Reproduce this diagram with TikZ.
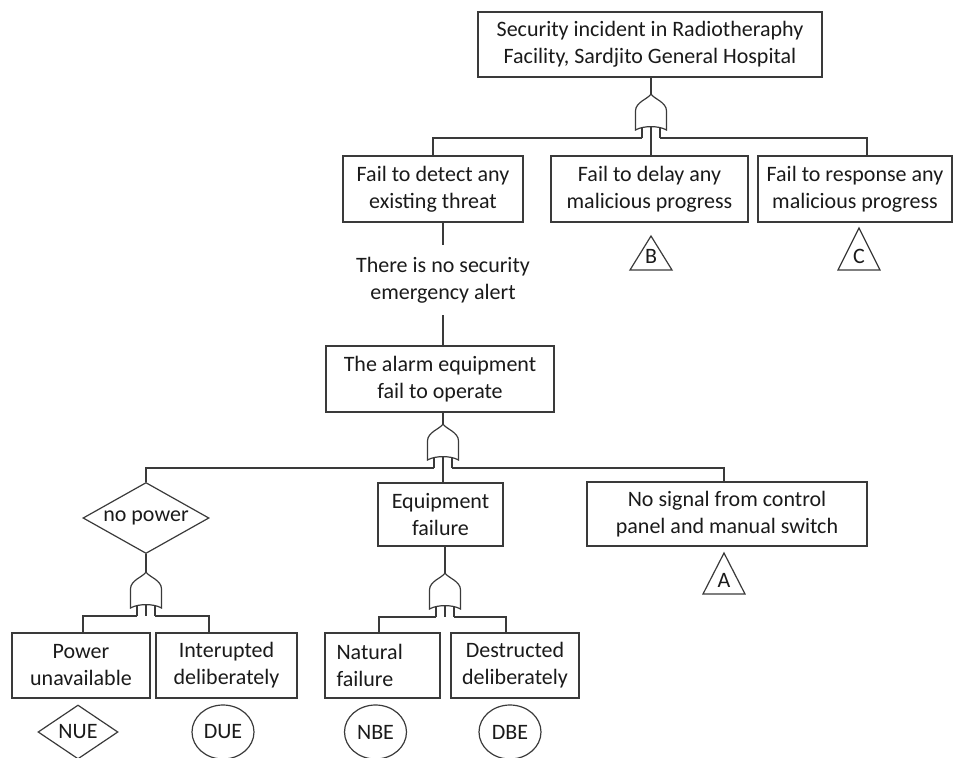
\documentclass[tikz,border=0pt]{standalone}
\usepackage{fontspec}
\setmainfont{Carlito}
\usetikzlibrary{shapes.geometric,calc}
\definecolor{ln}{HTML}{3A3A3A}
\definecolor{tx}{HTML}{1A1A1A}
\tikzset{
  gl/.style={draw=ln, line width=1.2pt},
  txt/.style={text=tx, font=\fontsize{22}{27}\selectfont, align=center, inner sep=0pt},
  box/.style={txt, draw=ln, line width=1.2pt, rectangle},
  diam/.style={txt, draw=ln, line width=1.2pt, diamond},
  ell/.style={txt, draw=ln, line width=1.2pt, ellipse, minimum width=62pt, minimum height=54pt},
  pics/orgate/.style={code={
    \draw[gl] (0,0) .. controls (-3,5) and (-15.5,8) .. (-15.5,17) -- (-15.5,36)
      .. controls (-8,31.5) and (8,31.5) .. (15.5,36) -- (15.5,17)
      .. controls (15.5,8) and (3,5) .. (0,0);
    \draw[gl] (-9,33.5) -- (-9,44) (9,33.5) -- (9,44);
    \coordinate (-top) at (0,0);
    \coordinate (-c) at (0,32.6);
    \coordinate (-l) at (-9,44);
    \coordinate (-r) at (9,44);
    \coordinate (-b) at (0,44);
  }},
  pics/transfer/.style n args={2}{code={
    \draw[gl] (0,0) -- (-21,#2) -- (21,#2) -- cycle;
    \node[txt] (-lab) at (0,#2-13.5) {#1};
  }}
}
\begin{document}
\begin{tikzpicture}[x=1pt,y=-1pt]
\useasboundingbox (0,0) rectangle (954,758);

% top event
\node[box, minimum width=344pt, minimum height=65pt] (top) at (650,44.5) {Security incident in Radiotheraphy\\Facility, Sardjito General Hospital};
\pic (g1) at (651,94) {orgate};

% second level
\node[box, minimum width=180pt, minimum height=66pt] (d1) at (433,189) {Fail to detect any\\existing threat};
\node[box, minimum width=197pt, minimum height=66pt] (d2) at (649.5,189) {Fail to delay any\\malicious progress};
\node[box, minimum width=194pt, minimum height=66pt] (d3) at (855,189) {Fail to response any\\malicious progress};
\pic (tB) at (651,236) {transfer={B}{34}};
\pic (tC) at (859,228) {transfer={C}{42}};

% chain
\node[txt, inner ysep=12pt] (alert) at (443,280) {There is no security\\emergency alert};
\node[box, minimum width=228pt, minimum height=66pt] (alarm) at (440,379) {The alarm equipment\\fail to operate};
\pic (g2) at (443,424) {orgate};

% third level
\node[diam, minimum width=126pt, minimum height=71pt, shape aspect=1.77] (np) at (146,518) {no power};
\node[box, minimum width=125pt, minimum height=63pt] (eq) at (440.5,514.5) {Equipment\\failure};
\node[box, minimum width=280pt, minimum height=64pt] (sig) at (727,514) {No signal from control\\panel and manual switch};
\pic (tA) at (724,553) {transfer={A}{41}};
\pic (g3) at (146,572) {orgate};
\pic (g4) at (445,573) {orgate};

% basic level
\node[box, minimum width=138pt, minimum height=65pt] (pu) at (81,665.5) {Power\\unavailable};
\node[box, minimum width=141pt, minimum height=65pt] (id) at (226.5,665.5) {Interupted\\deliberately};
\node[box, align=left, text width=92pt, inner xsep=11.5pt, minimum height=65pt] (nf) at (382.5,665.5) {Natural\\failure};
\node[box, minimum width=128pt, minimum height=65pt] (db) at (515,665.5) {Destructed\\deliberately};

\node[diam, minimum width=80pt, minimum height=54pt, shape aspect=1.48] (nue) at (78,732) {NUE};
\node[ell] (due) at (223,732) {DUE};
\node[ell] (nbe) at (375.5,732) {NBE};
\node[ell] (dbe) at (510,732) {DBE};

% connectors
\draw[gl] (top.south -| g1-top) -- (g1-top);
\draw[gl] (g1-l) -| (d1.north);
\draw[gl] (g1-r) -| ([xshift=12pt]d3.north);
\draw[gl] (g1-c) -- (g1-c |- d2.north);

\draw[gl] (alert.north) -- (alert.north |- d1.south);
\draw[gl] (alert.south) -- (alert.south |- alarm.north);

\draw[gl] (g2-top) -- (g2-top |- alarm.south);
\draw[gl] (g2-l) -| (np.north);
\draw[gl] (g2-r) -| ([xshift=-3pt]sig.north);
\draw[gl] (g2-c) -- (g2-c |- eq.north);

\draw[gl] (np.south) -- (g3-top);
\draw[gl] (g3-l) -| ([xshift=2pt]pu.north);
\draw[gl] (g3-r) -| ([xshift=-17.5pt]id.north);
\draw[gl] (g3-c) -- (g3-b);

\draw[gl] (eq.south -| g4-top) -- (g4-top);
\draw[gl] (g4-l) -| ([xshift=-3.5pt]nf.north);
\draw[gl] (g4-r) -| ([xshift=-9pt]db.north);
\draw[gl] (g4-c) -- (g4-b);
\end{tikzpicture}
\end{document}
